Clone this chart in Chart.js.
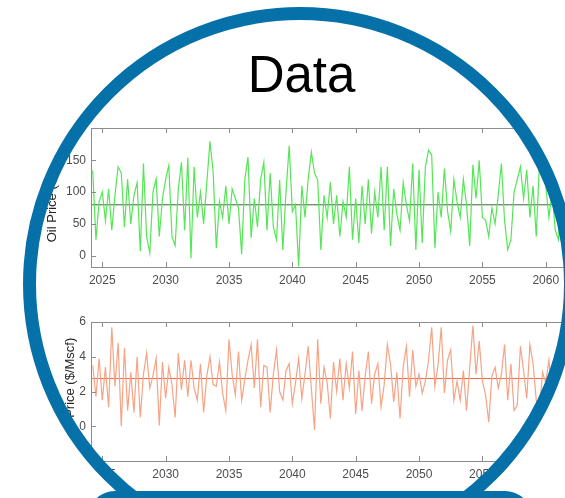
<!DOCTYPE html>
<html>
<head>
<meta charset="utf-8">
<script src="https://cdn.jsdelivr.net/npm/chart.js@4.4.1/dist/chart.umd.min.js"></script>
<style>
  html, body { margin: 0; padding: 0; background: #fff; overflow: hidden; }
  #stage { position: relative; width: 565px; height: 498px; overflow: hidden; background: #fff; }
  #plots { position: absolute; left: 0; top: 0; width: 565px; height: 498px; clip-path: circle(267px at 300px 284px); }
  #plots canvas { position: absolute; left: 0; }
  #title { position: absolute; left: 0; top: 49px; width: 603px; text-align: center;
           font: 51px/51px "Liberation Sans", Arial, sans-serif; color: #000; }
  #ring { position: absolute; left: 23px; top: 7px; width: 554px; height: 554px; box-sizing: border-box;
          border: 13px solid #0671a8; border-radius: 50%; }
  #tab { position: absolute; left: 87px; top: 491px; width: 446px; height: 60px; border-radius: 28px; background: #0671a8; }
</style>
</head>
<body>
<div id="stage">
  <div id="plots">
    <canvas id="oilChart" width="640" height="300" style="top:0"></canvas>
    <canvas id="gasChart" width="640" height="198" style="top:300px"></canvas>
  </div>
  <div id="title">Data</div>
  <div id="ring"></div>
  <div id="tab"></div>
</div>
<script>
// quarterly samples, first one at 2024.25
const START_YEAR = 2024.25;
const STEP = 0.25;

const OIL = [
  134, 25, 85, 100,   55, 105, 40, 95,    140, 130, 45, 120,  50, 95, 115, 7,
  145, 30, 4, 100,    121, 30, 90, 120,   142, 30, 16, 105,   147, 40, 154, -4,
  140, 60, 100, 50,   115, 180, 132, 12,  85, 60, 110, 50,    105, 90, 75, 2,
  120, 155, 28, 90,   45, 120, 147, 40,   130, 45, 25, 119,   9, 100, 173, 69,
  80, -17, 110, 60,   120, 163, 130, 119, 9, 95, 60, 116,     50, 95, 30, 85,
  60, 140, 25, 90,    20, 110, 50, 120,   35, 100, 60, 140,   40, 140, 15, 105,
  65, 40, 115, 80,    55, 145, 9, 135,    20, 140, 166, 158,  12, 100, 60, 137,
  70, 38, 120, 85,    60, 120, 80, 15,    143, 90, 150, 60,   56, 30, 75, 50,
  95, 145, 55, 9,     25, 100, 120, 140,  90, 135, 60, 110,   30, 145, 150, 110,
  60, 100, 40, 25,    90, 60, 110, 75
];
const GAS = [
  3.5, 1.7, 3.9, 1.5,  3.4, 1.1, 5.7, 2.3,  4.8, 0.0, 4.5, 0.9,  3.1, 0.8, 4.0, 0.5,
  3.0, 4.2, 2.2, 2.9,  3.9, 0.05, 3.7, 1.6, 3.4, 2.4, 0.5, 4.2,  2.1, 3.8, 1.7, 3.8,
  2.2, 1.5, 3.6, 0.8,  2.9, 4.0, 2.4, 2.3,  3.7, 1.9, 0.9, 5.0,  3.0, 1.8, 4.3, 1.5,
  2.7, 3.8, 4.7, 2.2,  5.0, 1.1, 3.5, 3.4,  0.8, 3.0, 4.4, 2.0,  1.5, 3.2, 3.6, 1.3,
  2.5, 3.9, 1.6, 3.0,  4.6, 2.2, -0.2, 5.0, 1.3, 3.4, 2.5, 0.45, 3.7, 2.0, 3.9, 1.5,
  3.6, 2.2, 4.3, 0.7,  3.2, 0.9, 2.9, 4.3,  1.3, 3.0, 3.6, 1.1,  2.4, 4.7, 3.6, 1.4,
  3.1, 0.45, 3.4, 4.6, 1.7, 4.4, 2.3, 3.0,  1.9, 2.6, 3.8, 5.7,  2.3, 3.5, 5.7, 1.9,
  3.8, 4.4, 1.5, 2.6,  1.5, 3.2, 0.9, 3.4,  5.8, 3.0, 4.9, 2.6,  1.8, 0.25, 2.9, 3.4,
  2.2, 3.0, 4.7, 1.5,  3.6, 0.9, 1.2, 4.6,  3.2, 1.6, 4.7, 3.6,  1.5, 0.9, 3.1, 2.5,
  3.8, 1.6, 4.2, 2.0,  3.3, 1.2, 3.9, 2.7
];
const OIL_MEAN = 80;
const GAS_MEAN = 2.75;

const X_MIN = 2024.11, X_MAX = 2065.86;
const X_TICKS = [2025, 2030, 2035, 2040, 2045, 2050, 2055, 2060, 2065];
const OIL_TICKS = [0, 50, 100, 150];
const GAS_TICKS = [-2, 0, 2, 4, 6];

const FONT = "'Liberation Sans', Arial, sans-serif";
const TICK_COLOR = '#4d4d4d';

// MATLAB-style box with inward ticks
const boxPlugin = {
  id: 'box',
  afterDatasetsDraw(chart) {
    const { ctx, chartArea: a, scales: { x, y } } = chart;
    ctx.save();
    ctx.strokeStyle = '#8c8c8c';
    ctx.lineWidth = 1;
    ctx.strokeRect(Math.round(a.left) + 0.5, Math.round(a.top) + 0.5, Math.round(a.width), Math.round(a.height));
    ctx.beginPath();
    x.ticks.forEach(t => {
      const px = Math.round(x.getPixelForValue(t.value)) + 0.5;
      ctx.moveTo(px, a.bottom); ctx.lineTo(px, a.bottom - 5);
      ctx.moveTo(px, a.top); ctx.lineTo(px, a.top + 5);
    });
    y.ticks.forEach(t => {
      const py = Math.round(y.getPixelForValue(t.value)) + 0.5;
      ctx.moveTo(a.left, py); ctx.lineTo(a.left + 5, py);
      ctx.moveTo(a.right, py); ctx.lineTo(a.right - 5, py);
    });
    ctx.stroke();
    ctx.restore();
  }
};

function makeChart(id, values, mean, color, meanColor, yMin, yMax, yTicks, title, titlePad, padTop, xHeight) {
  const pts = values.map((v, i) => ({ x: START_YEAR + i * STEP, y: v }));
  return new Chart(document.getElementById(id), {
    type: 'line',
    data: {
      datasets: [
        { data: pts, borderColor: color, borderWidth: 1.2, pointRadius: 0, tension: 0 },
        { data: [{ x: X_MIN, y: mean }, { x: X_MAX, y: mean }], borderColor: meanColor, borderWidth: 1, pointRadius: 0 },
      ],
    },
    options: {
      responsive: false,
      animation: false,
      devicePixelRatio: 1,
      layout: { padding: { top: padTop, right: 20, left: 0, bottom: 0 } },
      plugins: { legend: { display: false }, tooltip: { enabled: false } },
      scales: {
        x: {
          type: 'linear', min: X_MIN, max: X_MAX,
          afterBuildTicks: s => { s.ticks = X_TICKS.map(v => ({ value: v })); },
          afterFit: s => { s.height = xHeight; },
          grid: { display: false, drawTicks: false }, border: { display: false },
          ticks: { color: TICK_COLOR, padding: 6, maxRotation: 0, font: { family: FONT, size: 12 }, callback: v => String(v) },
        },
        y: {
          min: yMin, max: yMax,
          afterBuildTicks: s => { s.ticks = yTicks.map(v => ({ value: v })); },
          afterFit: s => { s.width = 91; },
          grid: { display: false, drawTicks: false }, border: { display: false },
          ticks: { color: TICK_COLOR, padding: 5, font: { family: FONT, size: 12 }, callback: v => String(v) },
          title: { display: true, text: title, color: '#262626', padding: { top: titlePad, bottom: 0 }, font: { family: FONT, size: 13 } },
        },
      },
    },
    plugins: [boxPlugin],
  });
}

makeChart('oilChart', OIL, OIL_MEAN, '#55e655', '#356b35', -18, 201, OIL_TICKS, 'Oil Price ($/bbl)', 45, 128, 33);
makeChart('gasChart', GAS, GAS_MEAN, '#f7a384', '#ee6a48', -2, 6, GAS_TICKS, 'Gas Price ($/Mscf)', 63, 22, 37);
</script>
</body>
</html>
